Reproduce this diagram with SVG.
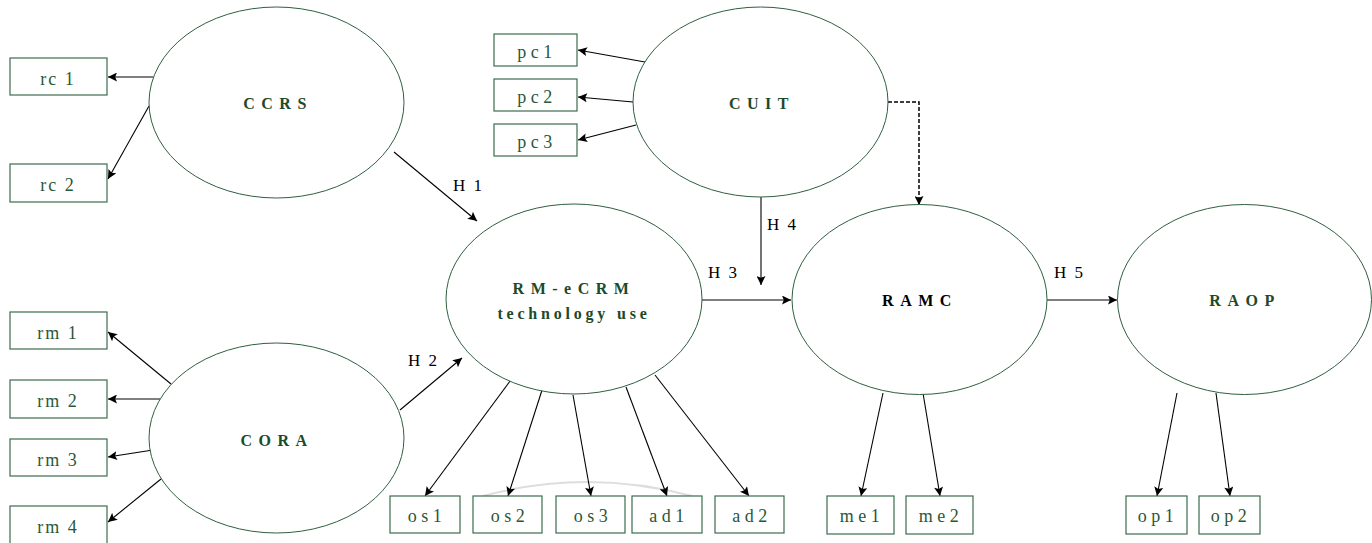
<svg xmlns="http://www.w3.org/2000/svg" width="1372" height="543" viewBox="0 0 1372 543">
<style>
.ell{fill:#fff;stroke:#2f5f3f;stroke-width:1}
.box{fill:#fff;stroke:#3d6b4f;stroke-width:1.2}
.lt{font-family:"Liberation Serif",serif;font-weight:bold;font-size:16px;fill:#1d4a2a;letter-spacing:6.5px;text-anchor:middle}
.lt2{letter-spacing:3.8px}
.bt{font-family:"Liberation Serif",serif;font-size:18px;fill:#2a5738;letter-spacing:4.5px;text-anchor:middle}
.bs{letter-spacing:2px}
.ht{font-family:"Liberation Serif",serif;font-size:17px;fill:#000;letter-spacing:2px}
.c{stroke:#000;stroke-width:1.1;fill:none;marker-end:url(#ah)}
.g{stroke:#555;stroke-width:1.6;fill:none;marker-end:url(#ah)}
.d{stroke:#000;stroke-width:1.5;fill:none;stroke-dasharray:4 2;marker-end:url(#ah)}
</style>
<defs>
<marker id="ah" viewBox="0 0 10 10" refX="10" refY="5" markerWidth="11" markerHeight="9" markerUnits="userSpaceOnUse" orient="auto">
<path d="M0,0 L10,5 L0,10 L2,5 z" fill="#000"/>
</marker>
</defs>
<rect width="1372" height="543" fill="#fff"/>
<path d="M483 496 Q587 468 692 496" stroke="#ddd" stroke-width="2" fill="none"/>
<g id="connectors">
<line class="c" x1="153" y1="77" x2="108" y2="77"/>
<line class="c" x1="149" y1="106" x2="108" y2="179"/>
<line class="c" x1="171" y1="384" x2="108" y2="332"/>
<line class="c" x1="160" y1="399" x2="108" y2="399"/>
<line class="c" x1="153" y1="450" x2="108" y2="457"/>
<line class="c" x1="161" y1="479" x2="108" y2="522"/>
<line class="c" x1="645" y1="62" x2="578" y2="50"/>
<line class="c" x1="633" y1="102" x2="578" y2="97"/>
<line class="c" x1="636" y1="125" x2="578" y2="140"/>
<line class="c" x1="394" y1="152" x2="477" y2="221"/>
<line class="c" x1="400" y1="410" x2="462" y2="358"/>
<line class="g" x1="702" y1="300" x2="791" y2="300"/>
<line class="c" x1="761" y1="197" x2="761" y2="285"/>
<path class="d" d="M888 102 H919 V205"/>
<line class="g" x1="1047" y1="300" x2="1117" y2="300"/>
<line class="c" x1="513" y1="377" x2="425" y2="496"/>
<line class="c" x1="543" y1="387" x2="508" y2="496"/>
<line class="c" x1="573" y1="395" x2="591" y2="496"/>
<line class="c" x1="626" y1="387" x2="667" y2="496"/>
<line class="c" x1="655" y1="375" x2="749" y2="496"/>
<line class="c" x1="883" y1="393" x2="861" y2="496"/>
<line class="c" x1="923" y1="393" x2="940" y2="496"/>
<line class="c" x1="1177" y1="393" x2="1157" y2="496"/>
<line class="c" x1="1216" y1="393" x2="1230" y2="496"/>
<text class="ht" x="453" y="191">H 1</text>
<text class="ht" x="408" y="366">H 2</text>
<text class="ht" x="708" y="278">H 3</text>
<text class="ht" x="767" y="230">H 4</text>
<text class="ht" x="1054" y="278">H 5</text>
</g>
<g id="CCRS"><ellipse class="ell" cx="276.5" cy="102.5" rx="127.5" ry="95.5"/><text class="lt" x="278" y="109">CCRS</text></g>
<g id="CORA"><ellipse class="ell" cx="276.5" cy="438" rx="127.5" ry="95"/><text class="lt" x="277" y="446">CORA</text></g>
<g id="CUIT"><ellipse class="ell" cx="760.5" cy="102" rx="127.5" ry="95"/><text class="lt" x="762" y="109">CUIT</text></g>
<g id="RMeCRM"><ellipse class="ell" cx="574" cy="299" rx="128" ry="95"/><text class="lt" x="574" y="294">RM-eCRM</text><text class="lt lt2" x="574" y="319">technology use</text></g>
<g id="RAMC"><ellipse class="ell" cx="919.5" cy="299.5" rx="127.5" ry="95"/><text class="lt" x="920" y="306" style="fill:#000">RAMC</text></g>
<g id="RAOP"><ellipse class="ell" cx="1244.5" cy="299.5" rx="127" ry="95"/><text class="lt" x="1245" y="306">RAOP</text></g>
<g id="rc1"><rect class="box" x="10" y="58" width="97" height="37"/><text class="bt bs" x="58" y="85">rc 1</text></g>
<g id="rc2"><rect class="box" x="10" y="164" width="97" height="38"/><text class="bt bs" x="58" y="191">rc 2</text></g>
<g id="rm1"><rect class="box" x="10" y="312" width="97" height="37"/><text class="bt bs" x="58" y="339">rm 1</text></g>
<g id="rm2"><rect class="box" x="10" y="380" width="97" height="38"/><text class="bt bs" x="58" y="407">rm 2</text></g>
<g id="rm3"><rect class="box" x="10" y="439" width="97" height="37"/><text class="bt bs" x="58" y="466">rm 3</text></g>
<g id="rm4"><rect class="box" x="10" y="506" width="97" height="40"/><text class="bt bs" x="58" y="533">rm 4</text></g>
<g id="pc1"><rect class="box" x="494" y="34" width="83" height="32"/><text class="bt" x="537" y="58">pc1</text></g>
<g id="pc2"><rect class="box" x="494" y="79" width="83" height="32"/><text class="bt" x="537" y="103">pc2</text></g>
<g id="pc3"><rect class="box" x="494" y="124" width="83" height="32"/><text class="bt" x="537" y="148">pc3</text></g>
<g id="os1"><rect class="box" x="390" y="496" width="70" height="37"/><text class="bt" x="427" y="522">os1</text></g>
<g id="os2"><rect class="box" x="473" y="496" width="69" height="37"/><text class="bt" x="510" y="522">os2</text></g>
<g id="os3"><rect class="box" x="556" y="496" width="69" height="37"/><text class="bt" x="593" y="522">os3</text></g>
<g id="ad1"><rect class="box" x="632" y="496" width="70" height="37"/><text class="bt" x="669" y="522">ad1</text></g>
<g id="ad2"><rect class="box" x="715" y="496" width="69" height="37"/><text class="bt" x="752" y="522">ad2</text></g>
<g id="me1"><rect class="box" x="827" y="496" width="67" height="38"/><text class="bt" x="862" y="522">me1</text></g>
<g id="me2"><rect class="box" x="906" y="496" width="67" height="38"/><text class="bt" x="941" y="522">me2</text></g>
<g id="op1"><rect class="box" x="1126" y="496" width="61" height="38"/><text class="bt" x="1158" y="522">op1</text></g>
<g id="op2"><rect class="box" x="1199" y="496" width="61" height="38"/><text class="bt" x="1231" y="522">op2</text></g>
</svg>
